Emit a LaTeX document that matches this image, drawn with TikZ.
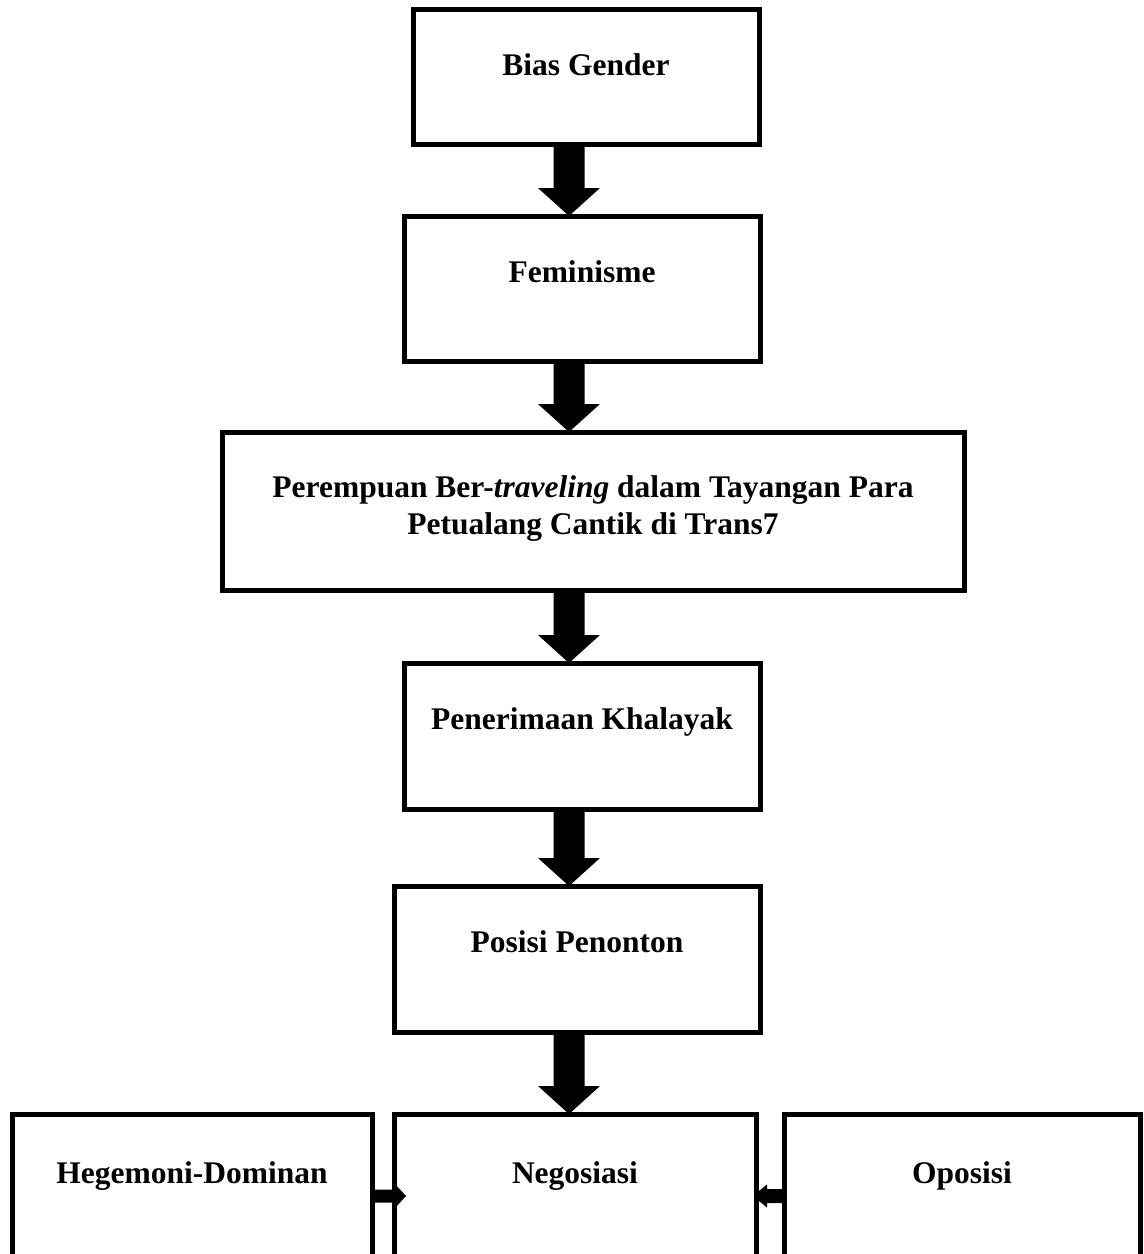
\documentclass[tikz,border=0pt]{standalone}
\usepackage{fontspec}
\setmainfont{Liberation Serif}
\usetikzlibrary{calc}
\tikzset{
  x=1pt, y=-1pt,
  boxnode/.style={draw=black, line width=5pt, rectangle, inner sep=0pt, outer sep=0pt, anchor=north west},
  lbl/.style={inner sep=0pt, outer sep=0pt, font=\fontsize{31.5}{36.5}\selectfont\bfseries, anchor=base},
}
\newcommand\blkarrow[2]{%
  \fill[black] let \p1=(#1), \p2=(#2) in
    (\x1-15.5pt,\y1) -- (\x1+15.5pt,\y1) -- (\x1+15.5pt,\y2+28pt) -- (\x1+31pt,\y2+28pt)
    -- (\x1,\y2) -- (\x1-31pt,\y2+28pt) -- (\x1-15.5pt,\y2+28pt) -- cycle;}
\begin{document}
\begin{tikzpicture}
\clip (0,0) rectangle (1144,1254);
\fill[white] (0,0) rectangle (1144,1254);
% boxes
\node[boxnode, minimum width=346pt, minimum height=135pt] (b1) at (413,9) {};
\node[boxnode, minimum width=356pt, minimum height=145pt] (b2) at (404,216) {};
\node[boxnode, minimum width=742pt, minimum height=158pt] (b3) at (222,432) {};
\node[boxnode, minimum width=356pt, minimum height=146pt] (b4) at (404,663) {};
\node[boxnode, minimum width=366pt, minimum height=146pt] (b5) at (394,886) {};
\node[boxnode, minimum width=360pt, minimum height=190pt] (heg) at (12,1114) {};
\node[boxnode, minimum width=362pt, minimum height=190pt] (neg) at (394,1114) {};
\node[boxnode, minimum width=356pt, minimum height=190pt] (opo) at (784,1114) {};
% texts
\node[lbl] (t1) at ([yshift=-66pt]b1.north) {Bias Gender};
\node[lbl] (t2) at ([yshift=-66pt]b2.north) {Feminisme};
\node[lbl, align=center, anchor=north] (t3) at ([yshift=-44pt]b3.north) {Perempuan Ber-\textit{traveling} dalam Tayangan Para\\Petualang Cantik di Trans7};
\node[lbl] (t4) at ([yshift=-66pt]b4.north) {Penerimaan Khalayak};
\node[lbl] (t5) at ([yshift=-66pt]b5.north) {Posisi Penonton};
\node[lbl] (t6) at ([yshift=-69pt]heg.north) {Hegemoni-Dominan};
\node[lbl] (t7) at ([yshift=-69pt]neg.north) {Negosiasi};
\node[lbl] (t8) at ([yshift=-69pt]opo.north) {Oposisi};
% vertical block arrows
\coordinate (ax) at (569,0);
\blkarrow{b1.south -| ax}{b2.north -| ax}
\blkarrow{b2.south -| ax}{b3.north -| ax}
\blkarrow{b3.south -| ax}{b4.north -| ax}
\blkarrow{b4.south -| ax}{b5.north -| ax}
\blkarrow{b5.south -| ax}{neg.north -| ax}
% small horizontal arrows
\coordinate (ay) at (0,1196);
\fill[black] let \p1=(heg.east |- ay), \p2=(neg.west |- ay) in
  (\x1,\y1+6.5pt) -- (\x2+1pt,\y1+6.5pt) -- (\x2+1pt,\y1+12pt) -- (\x2+12pt,\y1)
  -- (\x2+1pt,\y1-12pt) -- (\x2+1pt,\y1-6.5pt) -- (\x1,\y1-6.5pt) -- cycle;
\fill[black] let \p1=(opo.west |- ay), \p2=(neg.east |- ay) in
  (\x1,\y1+7pt) -- (\x2+11pt,\y1+7pt) -- (\x2+11pt,\y1+11.5pt) -- (\x2-2pt,\y1+1pt) -- (\x2-2pt,\y1-1pt)
  -- (\x2+11pt,\y1-11.5pt) -- (\x2+11pt,\y1-7pt) -- (\x1,\y1-7pt) -- cycle;
\end{tikzpicture}
\end{document}
